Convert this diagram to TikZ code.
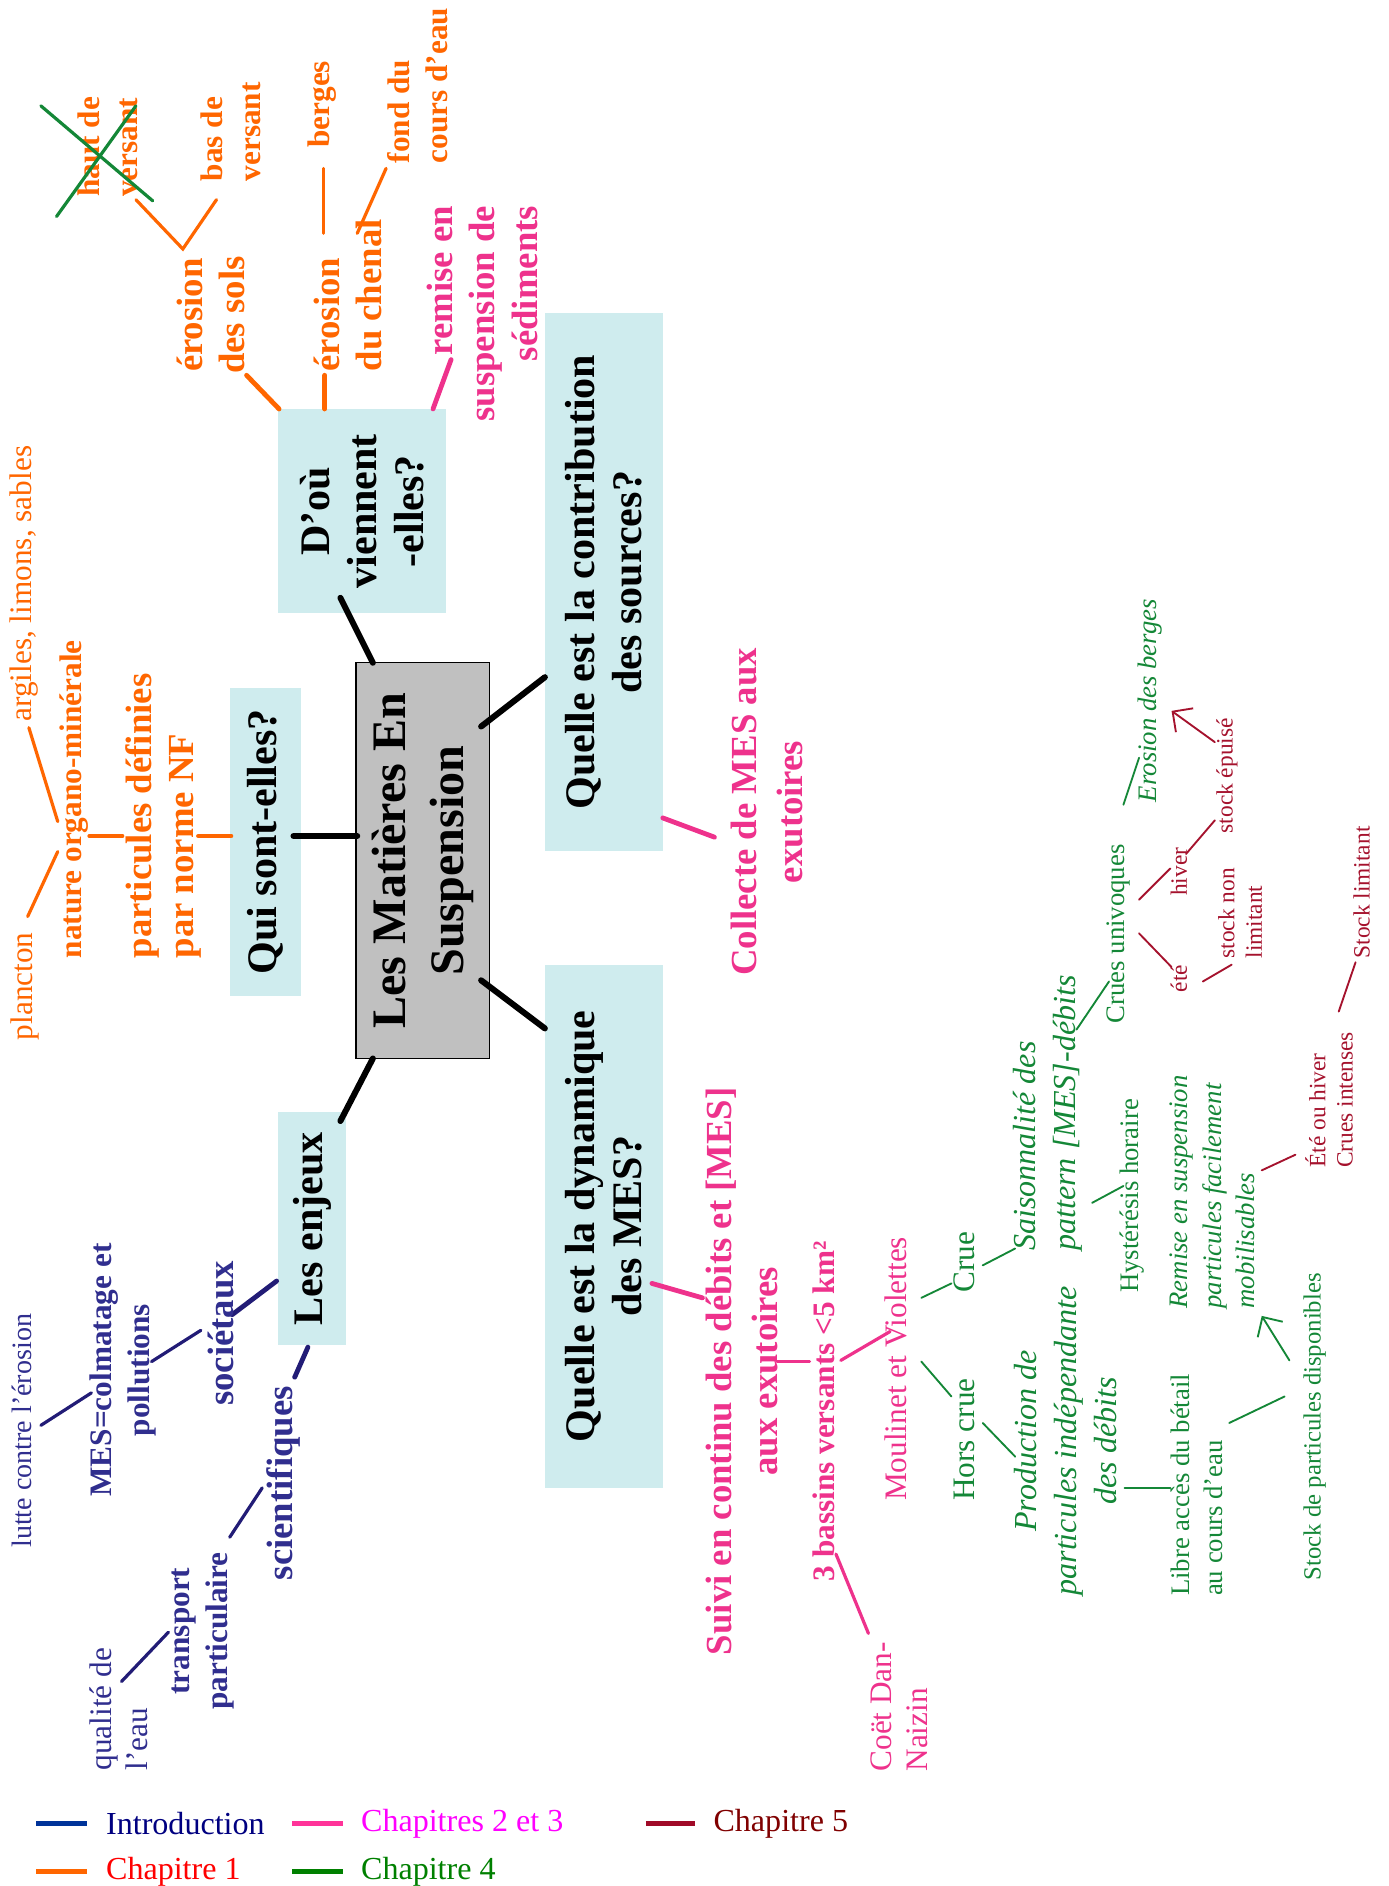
\documentclass[tikz,border=0pt]{standalone}
\usepackage{fontspec}
\setmainfont{Liberation Serif}
\usetikzlibrary{arrows.meta}
\definecolor{boxgray}{RGB}{192,192,192}
\definecolor{boxcyan}{RGB}{207,236,238}
\definecolor{introc}{RGB}{48,46,142}
\definecolor{introl}{RGB}{34,28,118}
\definecolor{chunc}{RGB}{255,102,0}
\definecolor{deuxc}{RGB}{238,50,140}
\definecolor{quatc}{RGB}{20,135,55}
\definecolor{cinqc}{RGB}{165,18,45}
\definecolor{legintro}{RGB}{0,0,128}
\definecolor{legintrol}{RGB}{0,51,153}
\definecolor{legdeux}{RGB}{255,0,255}
\definecolor{legdeuxl}{RGB}{255,51,153}
\definecolor{legcinq}{RGB}{128,0,0}
\definecolor{legcinql}{RGB}{160,10,40}
\definecolor{legquat}{RGB}{0,128,0}
\newcommand\fTitle{\fontsize{36pt}{43pt}\selectfont\bfseries}
\newcommand\fQuest{\fontsize{31.5pt}{35pt}\selectfont\bfseries}
\newcommand\fBig{\fontsize{27.5pt}{31.5pt}\selectfont\bfseries}
\newcommand\fBigWide{\fontsize{27.5pt}{34.5pt}\selectfont\bfseries}
\newcommand\fMid{\fontsize{23.4pt}{28.5pt}\selectfont\bfseries}
\newcommand\fPlain{\fontsize{23.4pt}{27pt}\selectfont}
\newcommand\fEmph{\fontsize{24pt}{30pt}\selectfont\itshape}
\newcommand\fSmall{\fontsize{20pt}{25pt}\selectfont}
\newcommand\fTiny{\fontsize{17.5pt}{20.5pt}\selectfont}
\newcommand\fStock{\fontsize{18.5pt}{22pt}\selectfont}
\newcommand\fLutte{\fontsize{21pt}{25pt}\selectfont}
\newcommand\fLeg{\fontsize{24pt}{28pt}\selectfont}
\tikzset{
  vlabel/.style={rotate=90, inner sep=0pt},
  titlebox/.style={vlabel, draw=black, line width=1pt, fill=boxgray, font=\fTitle, align=center},
  qbox/.style={vlabel, fill=boxcyan, font=\fQuest, align=center},
  big/.style={vlabel, font=\fBig},
  mid/.style={vlabel, font=\fMid},
  plain/.style={vlabel, font=\fPlain},
  emph/.style={vlabel, font=\fEmph},
  small/.style={vlabel, font=\fSmall},
  tiny/.style={vlabel, font=\fTiny},
  trunk/.style={line width=4.5pt, line cap=round},
  branch/.style={line width=3.6pt, line cap=round},
  twig/.style={line width=2.4pt, line cap=round},
  hair/.style={line width=1.4pt, line cap=round},
  arrow/.style={hair, -{Straight Barb[length=11pt,width=22pt]}},
  legline/.style={line width=3.6pt},
  legtext/.style={anchor=west, inner sep=0pt, font=\fLeg},
}

\begin{document}
\begin{tikzpicture}[x=0.9pt, y=-0.9pt]
  \useasboundingbox (0,0) rectangle (1154,1568);

  % centre and questions
  \node[titlebox, minimum width=296pt, minimum height=100pt] (mes) at (351.5,715.5) {Les Matières En\\Suspension};
  \node[qbox, minimum width=230pt, minimum height=53pt] (qui) at (220.5,700) {Qui sont-elles?};
  \node[qbox, minimum width=153pt, minimum height=126pt] (dou) at (301,425) {D’où\\viennent\\-elles?};
  \node[qbox, minimum width=403pt, minimum height=88pt] (contrib) at (502,484) {Quelle est la contribution\\des sources?};
  \node[qbox, minimum width=391.5pt, minimum height=88pt] (dyn) at (502,1019.5) {Quelle est la dynamique\\des MES?};
  \node[qbox, minimum width=174pt, minimum height=51pt] (enjeux) at (259.5,1021.5) {Les enjeux};

  \draw[trunk] (297,695) -- (244,695);
  \draw[trunk] (310,551) -- (283,497);
  \draw[trunk] (400,604) -- (453,563);
  \draw[trunk] (400,815) -- (453,855);
  \draw[trunk] (310,880) -- (283,932);

  % chapitre 1 : sources
  \draw[branch, chunc] (232,340) -- (205,312);
  \draw[branch, chunc] (270,340) -- (270,312);
  \node[big, text=chunc, align=center] (erosols) at (175,262) {érosion\\des sols};
  \draw[twig, chunc] (113,166) -- (152,207) -- (180,166);
  \node[mid, text=chunc, align=left, anchor=west] (hautv) at (90,164) {haut de\\versant};
  \draw[twig, quatc] (34,88) -- (127,167) (47,180) -- (113,88);
  \node[mid, text=chunc, align=left, anchor=west] (basv) at (192,151) {bas de\\versant};
  \node[big, text=chunc, align=left, anchor=west] (erochen) at (289,309) {érosion\\du chenal};
  \draw[twig, chunc] (269,194) -- (269,140);
  \node[mid, text=chunc, anchor=west] (berges) at (268,123) {berges};
  \draw[twig, chunc] (297,194) -- (321,140);
  \node[mid, text=chunc, align=left, anchor=west] (fond) at (347,136) {fond du\\cours d’eau};
  \draw[branch, deuxc] (360,340) -- (375,299);
  \node[big, text=deuxc, align=right, anchor=east] (remise) at (401,171) {remise en\\suspension de\\sédiments};

  % chapitre 1 : nature
  \draw[branch, chunc] (192,695) -- (165,695);
  \node[big, text=chunc, align=left, anchor=west] (particules) at (136,797) {particules définies\\par norme NF};
  \draw[twig, chunc] (102,695) -- (74,695);
  \node[mid, text=chunc, anchor=west] (nature) at (62,797) {nature organo-minérale};
  \draw[twig, chunc] (48,708) -- (23,762);
  \draw[twig, chunc] (48,683) -- (24,605);
  \node[plain, text=chunc, anchor=west] (plancton) at (21,865) {plancton};
  \node[plain, text=chunc, anchor=west] (argiles) at (20,600) {argiles, limons, sables};

  % chapitres 2 et 3
  \draw[branch, deuxc] (551,680) -- (594,696);
  \node[big, font=\fBigWide, text=deuxc, align=center] (collecte) at (638,675) {Collecte de MES aux\\exutoires};
  \draw[branch, deuxc] (542,1067) -- (584,1079);
  \node[big, font=\fBigWide, text=deuxc, align=center] (suivi) at (617,1140) {Suivi en continu des débits et [MES]\\aux exutoires};
  \draw[twig, deuxc] (646,1132) -- (673,1132);
  \node[mid, text=deuxc, anchor=west] (bassins) at (685,1315) {3 bassins versants <5 km²};
  \draw[twig, deuxc] (699,1131) -- (740,1107);
  \draw[twig, deuxc] (695,1292) -- (722,1358);
  \node[plain, text=deuxc, align=left, anchor=west] (coet) at (748,1473) {Coët Dan-\\Naizin};
  \node[plain, text=deuxc, anchor=west] (moulinet) at (745,1248) {Moulinet et Violettes};

  % chapitre 4
  \draw[hair, quatc] (766,1079) -- (791,1067);
  \draw[hair, quatc] (766,1132) -- (791,1161);
  \node[plain, text=quatc, anchor=west] (crue) at (802,1075) {Crue};
  \node[plain, text=quatc, anchor=west] (horscrue) at (802,1248) {Hors crue};
  \draw[hair, quatc] (817,1052) -- (844,1038);
  \node[emph, text=quatc, align=left, anchor=west] (saison) at (871,1040) {Saisonnalité des\\pattern [MES]-débits};
  \draw[hair, quatc] (817,1183) -- (844,1211);
  \node[emph, text=quatc, align=center] (prod) at (886,1198) {Production de\\particules indépendante\\des débits};
  \draw[hair, quatc] (935,1237) -- (973,1237);
  \node[small, text=quatc, align=left, anchor=west] (libre) at (995,1327) {Libre accès du bétail\\au cours d’eau};
  \draw[hair, quatc] (1022,1183) -- (1068,1161);
  \node[tiny, font=\fStock, text=quatc, anchor=west] (stockdisp) at (1093,1314) {Stock de particules disponibles};
  \draw[arrow, quatc] (1072,1131) -- (1049,1094);
  \node[small, font=\fSmall\itshape, text=quatc, align=left, anchor=west] (remisep) at (1008,1088) {Remise en suspension\\particules facilement\\mobilisables};
  \draw[hair, quatc] (908,1000) -- (934,986);
  \node[small, text=quatc, anchor=west] (hyst) at (941,1075) {Hystérésis horaire};
  \draw[hair, quatc] (895,856) -- (922,816);
  \node[small, text=quatc, anchor=west] (cruesu) at (930,851) {Crues univoques};
  \draw[hair, quatc] (934,669) -- (947,630);
  \node[small, font=\fSmall\itshape, text=quatc, anchor=west] (erosb) at (956,667) {Erosion des berges};

  % chapitre 5
  \draw[hair, cinqc] (947,748) -- (973,722);
  \draw[hair, cinqc] (947,776) -- (974,804);
  \node[tiny, text=cinqc, anchor=west] (hiver) at (980,745) {hiver};
  \node[tiny, text=cinqc, anchor=west] (ete) at (980,825) {été};
  \draw[hair, cinqc] (986,710) -- (1010,682);
  \node[tiny, text=cinqc, anchor=west] (stockep) at (1020,693) {stock épuisé};
  \draw[arrow, cinqc] (1010,617) -- (974,591);
  \draw[hair, cinqc] (1000,816) -- (1024,802);
  \node[tiny, text=cinqc, align=left, anchor=west] (stocknl) at (1031,797) {stock non\\limitant};
  \draw[hair, cinqc] (1049,973) -- (1077,960);
  \node[tiny, text=cinqc, align=left, anchor=west] (crint) at (1105,971) {Été ou hiver\\Crues intenses};
  \draw[hair, cinqc] (1113,841) -- (1127,800);
  \node[tiny, text=cinqc, anchor=west] (stocklim) at (1132,797) {Stock limitant};

  % introduction
  \draw[branch, introl] (230,1065) -- (193,1093);
  \draw[branch, introl] (256,1120) -- (245,1145);
  \node[big, text=introc, anchor=west] (societaux) at (184,1169) {sociétaux};
  \node[big, text=introc, anchor=west] (scientif) at (236,1314) {scientifiques};
  \draw[twig, introl] (167,1106) -- (126,1132);
  \node[mid, text=introc, align=center] (mescol) at (102,1139) {MES=colmatage et\\pollutions};
  \draw[twig, introl] (76,1158) -- (34,1185);
  \node[plain, font=\fLutte, text=introc, anchor=west] (lutte) at (18,1287) {lutte contre l’érosion};
  \draw[twig, introl] (218,1237) -- (191,1278);
  \node[mid, text=introc, align=center] (transport) at (169,1356) {transport\\particulaire};
  \draw[twig, introl] (140,1357) -- (101,1398);
  \node[plain, text=introc, align=left, anchor=west] (qualite) at (99,1472) {qualité de\\l’eau};

  % legende
  \draw[legline, legintrol] (30,1516) -- (72,1516);
  \node[legtext, text=legintro] (lgintro) at (88,1516) {Introduction};
  \draw[legline, legdeuxl] (243,1516) -- (285,1516);
  \node[legtext, text=legdeux] (lgdeux) at (300,1516) {Chapitres 2 et 3};
  \draw[legline, legcinql] (537,1516) -- (578,1516);
  \node[legtext, text=legcinq] (lgcinq) at (593,1516) {Chapitre 5};
  \draw[legline, chunc] (30,1556) -- (72,1556);
  \node[legtext, text=red] (lgun) at (88,1556) {Chapitre 1};
  \draw[legline, legquat] (243,1556) -- (285,1556);
  \node[legtext, text=legquat] (lgquat) at (300,1556) {Chapitre 4};
\end{tikzpicture}
\end{document}
